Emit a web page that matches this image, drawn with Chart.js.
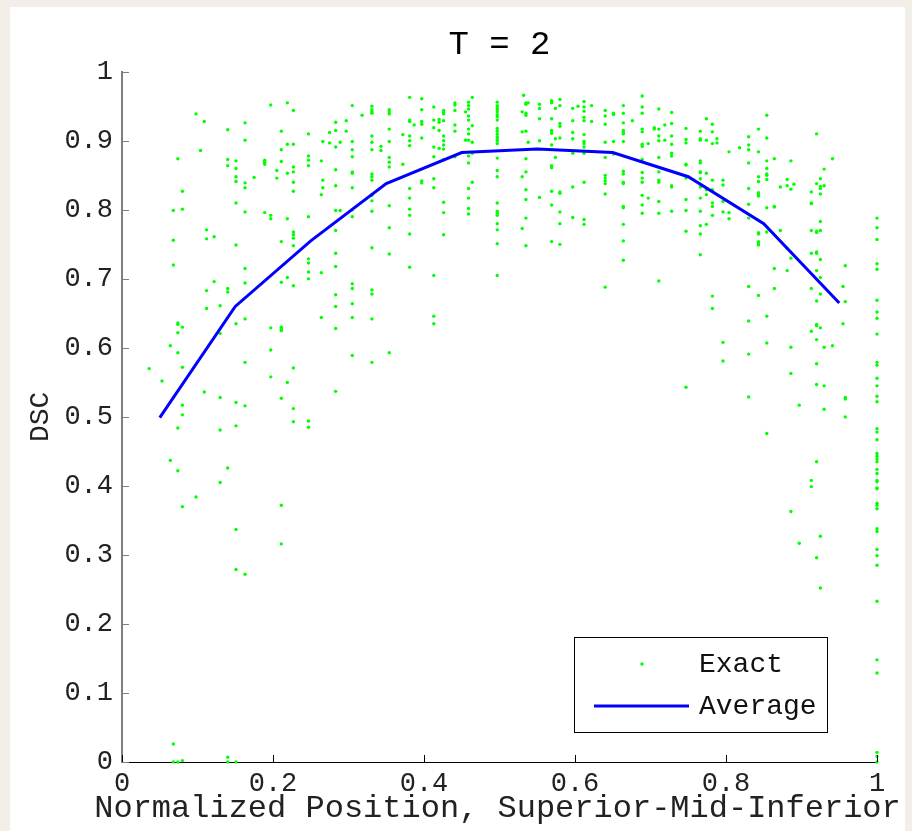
<!DOCTYPE html>
<html>
<head>
<meta charset="utf-8">
<script src="https://cdn.jsdelivr.net/npm/chart.js@4.4.0/dist/chart.umd.min.js"></script>
<style>
  html, body { margin: 0; padding: 0; background: #f3eee7; }
  #panel { position: absolute; left: 10px; top: 7px; width: 895px; height: 824px; background: #fff; }
  #wrap { position: absolute; left: 0; top: 0; width: 912px; height: 831px; }
</style>
</head>
<body>
<div id="panel"></div>
<div id="wrap"><canvas id="myChart" width="912" height="831"></canvas></div>
<script>
// normalized slice positions (one column of dots per position)
var slicePos = [
  0.036, 0.053, 0.064, 0.068, 0.074, 0.080, 0.098, 0.104, 0.109, 0.112, 0.122, 0.130, 0.140, 0.151, 0.163, 0.175,
  0.189, 0.197, 0.205, 0.211, 0.219, 0.227, 0.247, 0.264, 0.266, 0.275, 0.283, 0.289, 0.297, 0.305, 0.318, 0.331,
  0.343, 0.354, 0.372, 0.381, 0.387, 0.397, 0.413, 0.420, 0.426, 0.441, 0.455, 0.459, 0.464, 0.497, 0.530, 0.532,
  0.535, 0.538, 0.553, 0.569, 0.574, 0.580, 0.597, 0.604, 0.612, 0.622, 0.640, 0.651, 0.664, 0.676, 0.689, 0.697,
  0.705, 0.711, 0.719, 0.728, 0.747, 0.766, 0.774, 0.782, 0.788, 0.796, 0.804, 0.818, 0.830, 0.843, 0.854, 0.864,
  0.872, 0.881, 0.886, 0.890, 0.897, 0.913, 0.920, 0.925, 0.930, 0.941, 0.955, 0.958, 1.0
];

// DSC values read for each slice position
var sliceDSC = [
  [0.570],
  [0.552],
  [0.603, 0.437],
  [0.799, 0.756, 0.720, 0.026, 0.0],
  [0.874, 0.636, 0.634, 0.622, 0.593, 0.484, 0.422, 0.0],
  [0.827, 0.801, 0.630, 0.572, 0.517, 0.503, 0.370, 0.002],
  [0.939, 0.384],
  [0.886],
  [0.928, 0.536],
  [0.771, 0.758, 0.683, 0.657],
  [0.761, 0.696],
  [0.661, 0.621, 0.528, 0.481, 0.405],
  [0.916, 0.873, 0.864, 0.686, 0.681, 0.426, 0.007, 0.0],
  [0.871, 0.860, 0.848, 0.841, 0.810, 0.749, 0.635, 0.521, 0.487, 0.337, 0.279, 0.0],
  [0.926, 0.901, 0.839, 0.832, 0.797, 0.715, 0.694, 0.642, 0.579, 0.516, 0.272],
  [0.847],
  [0.872, 0.869, 0.866, 0.796],
  [0.952, 0.792, 0.787, 0.629, 0.597, 0.558],
  [0.857, 0.846],
  [0.914, 0.887, 0.870, 0.754, 0.695, 0.630, 0.627, 0.625, 0.527, 0.372, 0.316],
  [0.955, 0.895, 0.853, 0.787, 0.702, 0.550],
  [0.944, 0.895, 0.862, 0.855, 0.840, 0.827, 0.768, 0.764, 0.759, 0.748, 0.690, 0.571, 0.512, 0.493],
  [0.910, 0.878, 0.872, 0.864, 0.790, 0.729, 0.723, 0.710, 0.700, 0.494, 0.485],
  [0.871, 0.822, 0.709, 0.644],
  [0.899, 0.843, 0.832],
  [0.912, 0.897],
  [0.927, 0.915, 0.891, 0.858, 0.835, 0.799, 0.770, 0.737, 0.718, 0.677, 0.660, 0.628, 0.537],
  [0.898, 0.799],
  [0.929, 0.914],
  [0.951, 0.899, 0.887, 0.877, 0.855, 0.853, 0.832, 0.800, 0.790, 0.693, 0.686, 0.664, 0.644, 0.589],
  [0.937],
  [0.950, 0.945, 0.942, 0.940, 0.907, 0.898, 0.887, 0.852, 0.848, 0.843, 0.821, 0.813, 0.798, 0.745, 0.684, 0.678, 0.642, 0.579],
  [0.892, 0.886],
  [0.945, 0.942, 0.939, 0.917, 0.899, 0.876, 0.869, 0.862, 0.806, 0.774, 0.736, 0.593],
  [0.909, 0.866],
  [0.963, 0.930, 0.928, 0.907, 0.900, 0.893, 0.831, 0.817, 0.801, 0.792, 0.765, 0.717],
  [0.923],
  [0.961, 0.945, 0.928, 0.924, 0.904, 0.842, 0.839],
  [0.949, 0.930, 0.919, 0.891, 0.877, 0.845, 0.832, 0.705, 0.646, 0.635],
  [0.931, 0.927, 0.915, 0.889],
  [0.944, 0.941, 0.939, 0.929, 0.907, 0.900, 0.894, 0.888, 0.873, 0.811, 0.796, 0.764],
  [0.955, 0.952, 0.944, 0.923, 0.914, 0.877],
  [0.942, 0.901],
  [0.956, 0.951, 0.946, 0.936, 0.930, 0.917, 0.910, 0.901, 0.878, 0.868, 0.831, 0.817, 0.802, 0.794],
  [0.963, 0.922, 0.898, 0.882, 0.840],
  [0.956, 0.951, 0.948, 0.945, 0.942, 0.938, 0.935, 0.930, 0.918, 0.914, 0.910, 0.906, 0.903, 0.900, 0.896, 0.875,
   0.857, 0.848, 0.810, 0.798, 0.795, 0.792, 0.780, 0.771, 0.751, 0.705],
  [0.942, 0.913, 0.848, 0.773],
  [0.966],
  [0.955, 0.953, 0.940, 0.937, 0.914, 0.874, 0.855, 0.829, 0.815, 0.788, 0.748],
  [0.955, 0.898],
  [0.953, 0.947, 0.932, 0.900, 0.818],
  [0.958, 0.955, 0.932, 0.915, 0.911, 0.894, 0.864, 0.861, 0.827, 0.807, 0.754],
  [0.947, 0.903, 0.876],
  [0.960, 0.951, 0.925, 0.921, 0.904, 0.826, 0.824, 0.797, 0.780, 0.750],
  [0.947, 0.929, 0.912, 0.903, 0.882, 0.833, 0.789],
  [0.950],
  [0.957, 0.949, 0.943, 0.934, 0.929, 0.909, 0.899, 0.896, 0.891, 0.882, 0.840, 0.786, 0.779],
  [0.951, 0.928],
  [0.944, 0.936, 0.924, 0.898, 0.876, 0.850, 0.846, 0.842, 0.838, 0.823, 0.688],
  [0.940, 0.938, 0.899, 0.881],
  [0.951, 0.940, 0.926, 0.915, 0.912, 0.910, 0.899, 0.856, 0.852, 0.840, 0.838, 0.805, 0.803, 0.779, 0.755, 0.727],
  [0.929],
  [0.965, 0.949, 0.940, 0.917, 0.913, 0.895, 0.892, 0.873, 0.854, 0.846, 0.840, 0.821, 0.807, 0.795],
  [0.896, 0.817],
  [0.919, 0.917],
  [0.946, 0.917, 0.907, 0.900, 0.876, 0.855, 0.843, 0.840, 0.812, 0.795, 0.697],
  [0.923, 0.901],
  [0.941, 0.925, 0.907, 0.895, 0.882, 0.878, 0.835, 0.833, 0.798],
  [0.918, 0.902, 0.897, 0.866, 0.865, 0.846, 0.815, 0.799, 0.769, 0.543],
  [0.914, 0.903, 0.901, 0.871, 0.868, 0.855, 0.854, 0.845, 0.833, 0.817, 0.798, 0.777, 0.765, 0.735],
  [0.932, 0.901, 0.853, 0.829, 0.822, 0.779],
  [0.924, 0.913, 0.896, 0.843, 0.829, 0.810, 0.805, 0.792, 0.675, 0.657],
  [0.903, 0.897],
  [0.843, 0.836, 0.812, 0.797, 0.608, 0.581],
  [0.884, 0.796, 0.787],
  [0.890],
  [0.906, 0.894, 0.887, 0.868, 0.831, 0.808, 0.788, 0.689, 0.639, 0.591, 0.529],
  [0.917, 0.884, 0.848, 0.841, 0.825, 0.822, 0.820, 0.767, 0.765, 0.754, 0.752, 0.749, 0.676],
  [0.937, 0.904, 0.871, 0.860, 0.852, 0.850, 0.844, 0.803, 0.768, 0.646, 0.607, 0.476],
  [0.874, 0.805, 0.804, 0.715, 0.686],
  [0.833, 0.770],
  [0.844, 0.835, 0.744, 0.712],
  [0.871, 0.830, 0.730, 0.601, 0.563, 0.363],
  [0.837],
  [0.517, 0.317],
  [0.826, 0.810, 0.809, 0.770, 0.737, 0.686, 0.624, 0.408, 0.399],
  [0.910, 0.838, 0.769, 0.767, 0.739, 0.737, 0.712, 0.668, 0.634, 0.632, 0.612, 0.577, 0.547, 0.435, 0.296],
  [0.845, 0.834, 0.831, 0.823, 0.783, 0.770, 0.728, 0.702, 0.678, 0.629, 0.327, 0.252],
  [0.859, 0.835, 0.601, 0.545, 0.511],
  [0.874, 0.603],
  [0.689, 0.635],
  [0.719, 0.667, 0.528, 0.526, 0.500],
  [0.788, 0.774, 0.757, 0.722, 0.714, 0.669, 0.652, 0.643, 0.620, 0.579, 0.575, 0.556, 0.545, 0.530, 0.522, 0.483,
   0.478, 0.467, 0.447, 0.443, 0.439, 0.435, 0.424, 0.418, 0.408, 0.406, 0.397, 0.396, 0.375, 0.372, 0.367, 0.338,
   0.334, 0.308, 0.299, 0.285, 0.233, 0.148, 0.129, 0.014, 0.008, 0.0]
];

// binned average
var avgPos = [0.05, 0.15, 0.25, 0.35, 0.45, 0.55, 0.65, 0.75, 0.85, 0.95];
var avgDSC = [0.499, 0.660, 0.755, 0.838, 0.883, 0.888, 0.883, 0.848, 0.780, 0.665];

var xTickValues = [0, 0.2, 0.4, 0.6, 0.8, 1];
var xTickLabels = ['0', '0.2', '0.4', '0.6', '0.8', '1'];
var yTickValues = [0, 0.1, 0.2, 0.3, 0.4, 0.5, 0.6, 0.7, 0.8, 0.9, 1];
var yTickLabels = ['0', '0.1', '0.2', '0.3', '0.4', '0.5', '0.6', '0.7', '0.8', '0.9', '1'];

var xAxisLabel = 'Normalized Position, Superior-Mid-Inferior';

var mono = '"Liberation Mono", "Courier New", monospace';

var exactPoints = [];
slicePos.forEach(function (x, i) {
  sliceDSC[i].forEach(function (y) { exactPoints.push({x: x, y: y}); });
});
var avgPoints = avgPos.map(function (x, i) { return {x: x, y: avgDSC[i]}; });

// MATLAB style ticks pointing into the axes
const inwardTicks = {
  id: 'inwardTicks',
  afterDraw(chart) {
    const ctx = chart.ctx, a = chart.chartArea;
    const xs = chart.scales.x, ys = chart.scales.y;
    ctx.save();
    ctx.lineWidth = 1;
    ctx.strokeStyle = '#7f7f7f';
    yTickValues.forEach(function (v) {
      const p = Math.round(ys.getPixelForValue(v)) + 0.5;
      ctx.beginPath(); ctx.moveTo(a.left, p); ctx.lineTo(a.left + 7, p); ctx.stroke();
    });
    ctx.strokeStyle = '#000';
    xTickValues.forEach(function (v) {
      const p = Math.round(xs.getPixelForValue(v)) + 0.5;
      ctx.beginPath(); ctx.moveTo(p, a.bottom); ctx.lineTo(p, a.bottom - 7); ctx.stroke();
    });
    ctx.restore();
  }
};

// x axis label, drawn without the scale width limit so it is not squeezed
const xLabel = {
  id: 'xLabel',
  afterDraw(chart) {
    const ctx = chart.ctx, a = chart.chartArea;
    ctx.save();
    ctx.fillStyle = '#222';
    ctx.font = '32px ' + mono;
    ctx.textAlign = 'center';
    ctx.textBaseline = 'middle';
    ctx.fillText(xAxisLabel, (a.left + a.right) / 2 - 2, a.bottom + 47);
    ctx.restore();
  }
};

// legend box in the lower right of the axes
const legendBox = {
  id: 'legendBox',
  afterDraw(chart) {
    const ctx = chart.ctx, a = chart.chartArea;
    const w = 253, h = 95;
    const x0 = a.right - 50 - w, y0 = a.bottom - 30 - h;
    ctx.save();
    ctx.fillStyle = '#fff';
    ctx.fillRect(x0, y0, w, h);
    ctx.strokeStyle = '#000';
    ctx.lineWidth = 1;
    ctx.strokeRect(Math.round(x0) + 0.5, Math.round(y0) + 0.5, w, h);
    const ds = chart.data.datasets;
    // Exact
    ctx.fillStyle = ds[1].backgroundColor;
    ctx.beginPath(); ctx.arc(x0 + 68, y0 + 27, 1.7, 0, Math.PI * 2); ctx.fill();
    // Average
    ctx.strokeStyle = ds[0].borderColor;
    ctx.lineWidth = 3;
    ctx.beginPath(); ctx.moveTo(x0 + 20, y0 + 69); ctx.lineTo(x0 + 115, y0 + 69); ctx.stroke();
    ctx.fillStyle = '#111';
    ctx.font = '28px ' + mono;
    ctx.textBaseline = 'middle';
    ctx.textAlign = 'left';
    ctx.fillText(ds[1].label, x0 + 125, y0 + 28);
    ctx.fillText(ds[0].label, x0 + 125, y0 + 70);
    ctx.restore();
  }
};

const config = {
  type: 'scatter',
  data: {
    datasets: [{
      type: 'line',
      label: 'Average',
      data: avgPoints,
      borderColor: '#0000ff',
      borderWidth: 3,
      pointRadius: 0,
      tension: 0,
      fill: false,
      order: 0,
      clip: false
    }, {
      type: 'scatter',
      label: 'Exact',
      data: exactPoints,
      backgroundColor: '#00ff00',
      borderWidth: 0,
      pointRadius: 1.7,
      order: 1,
      clip: false
    }]
  },
  options: {
    responsive: false,
    animation: false,
    devicePixelRatio: 1,
    layout: { padding: { left: 0, top: 0, right: 35, bottom: 0 } },
    plugins: {
      legend: { display: false },
      tooltip: { enabled: false },
      title: {
        display: true,
        text: 'T = 2',
        fullSize: false,
        color: '#000',
        font: { family: mono, size: 34, weight: 'normal', lineHeight: 1.2 },
        padding: { top: 25, bottom: 6 }
      }
    },
    scales: {
      x: {
        type: 'linear',
        min: 0,
        max: 1,
        afterFit: function (s) { s.height = 69; },
        afterBuildTicks: function (s) { s.ticks = xTickValues.map(function (v) { return {value: v}; }); },
        grid: { display: false, drawTicks: false },
        border: { display: true, color: '#000', width: 1 },
        ticks: {
          color: '#222',
          padding: 6,
          maxRotation: 0,
          font: { family: mono, size: 27 },
          callback: function (v, i) { return xTickLabels[i]; }
        },
        title: { display: false }
      },
      y: {
        type: 'linear',
        min: 0,
        max: 1,
        afterFit: function (s) { s.width = 122; },
        afterBuildTicks: function (s) { s.ticks = yTickValues.map(function (v) { return {value: v}; }); },
        grid: { display: false, drawTicks: false },
        border: { display: true, color: '#7f7f7f', width: 2 },
        ticks: {
          color: '#222',
          padding: 9,
          font: { family: mono, size: 27 },
          callback: function (v, i) { return yTickLabels[i]; }
        },
        title: {
          display: true,
          text: 'DSC',
          color: '#222',
          font: { family: mono, size: 28, lineHeight: 1.2 },
          padding: { top: 24, bottom: 0 }
        }
      }
    }
  },
  plugins: [inwardTicks, xLabel, legendBox]
};

const myChart = new Chart(document.getElementById('myChart'), config);
</script>
</body>
</html>
